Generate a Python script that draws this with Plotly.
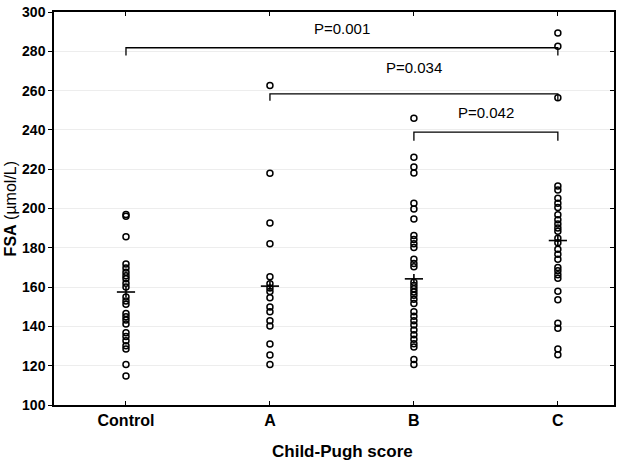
import plotly.graph_objects as go

categories = ["Control", "A", "B", "C"]

control_vals = [197, 196, 185.6, 171.7, 169.7, 167.5, 165.8, 164.2, 162, 160, 155, 152.9, 151.3,
                146.6, 144.9, 143.2, 141.2, 136.8, 134.8, 132.7, 130.2, 128.5, 120.6, 114.7]
a_vals = [262.6, 217.9, 192.6, 182.1, 165.3, 161.7, 159.5, 157.8, 154.6, 149.9, 147.4, 142.9,
          140.2, 131, 125.5, 120.6]
b_vals = [245.9, 226.1, 221.1, 218.1, 202.7, 199.8, 194.6, 186.2, 184.2, 182.1, 180.1, 174.2,
          172, 170.4, 162.5, 160.8, 159.1, 157.5, 155.8, 153.8, 151.6, 147.4, 145.2, 142.9,
          140.7, 138.2, 135.7, 133.5, 131.2, 129.5, 123.1, 120.6]
c_vals = [289.3, 282.6, 256.3, 211.4, 209.4, 205.2, 202.7, 200.5, 196.8, 194.3, 192.1, 190.1,
          188.4, 184.8, 182.6, 179.2, 176.7, 174.2, 170, 168.3, 166.3, 164.5, 157.9, 153.6,
          141.6, 139, 128.5, 125.6]
group_values = [control_vals, a_vals, b_vals, c_vals]
group_means = [157.5, 160.5, 164.2, 183.7]

# comparisons: (from, to, bracket level, tick bottom, label level, label)
comp_from = ["Control", "A", "B"]
comp_to = ["C", "C", "C"]
comp_level = [281.8, 258.3, 238.9]
comp_drop = [277.8, 254.8, 234.5]
comp_label_y = [291.5, 272.0, 249.0]
comp_text = ["P=0.001", "P=0.034", "P=0.042"]

y_ticks = [100, 120, 140, 160, 180, 200, 220, 240, 260, 280, 300]

FONT = "Liberation Sans, Arial, sans-serif"

fig = go.Figure()

for cat, vals in zip(categories, group_values):
    fig.add_trace(go.Scatter(
        x=[cat] * len(vals), y=vals, mode="markers",
        marker=dict(symbol="circle-open", size=6, color="black", line=dict(width=1.5, color="black")),
        showlegend=False, hoverinfo="y"))

fig.add_trace(go.Scatter(
    x=categories, y=group_means, mode="markers",
    marker=dict(symbol="line-ew", size=13, line=dict(width=1.6, color="black")),
    showlegend=False))
fig.add_trace(go.Scatter(
    x=categories, y=group_means, mode="markers",
    marker=dict(symbol="line-ns", size=7, line=dict(width=1.6, color="black")),
    showlegend=False))

for f, t, lv, dr, ly, txt in zip(comp_from, comp_to, comp_level, comp_drop, comp_label_y, comp_text):
    fig.add_trace(go.Scatter(
        x=[f, f, t, t], y=[dr, lv, lv, dr], mode="lines",
        line=dict(color="black", width=1.3), showlegend=False, hoverinfo="skip"))
    mid = (categories.index(f) + categories.index(t)) / 2
    fig.add_annotation(x=mid, y=ly, xref="x", yref="y", text=txt, showarrow=False,
                       font=dict(family=FONT, size=15, color="black"))

# helper trace for right axis
fig.add_trace(go.Scatter(x=[categories[0]], y=[None], yaxis="y2", showlegend=False, hoverinfo="skip"))

fig.update_layout(
    width=618, height=465,
    margin=dict(l=54, r=4, t=8, b=60),
    paper_bgcolor="white", plot_bgcolor="white",
    font=dict(family=FONT, color="black"),
    xaxis=dict(
        type="category", categoryorder="array", categoryarray=categories,
        range=[-0.5, 3.39], showline=True, linecolor="black", linewidth=1.5,
        mirror="ticks", ticks="inside", ticklen=4, tickcolor="black",
        showgrid=False, zeroline=False,
        tickfont=dict(family=FONT, size=16, weight="bold", color="black")),
    yaxis=dict(
        range=[100, 300], tickvals=y_ticks, showline=True, linecolor="black", linewidth=1.5,
        ticks="outside", ticklen=4, tickcolor="black", ticklabeloverflow="allow",
        showgrid=True, gridcolor="#ededed", gridwidth=1, zeroline=False,
        tickfont=dict(family=FONT, size=14, weight="bold", color="black")),
    yaxis2=dict(
        range=[100, 300], tickvals=y_ticks, overlaying="y", side="right",
        showline=True, linecolor="black", linewidth=1.5, ticks="inside", ticklen=4,
        tickcolor="black", showticklabels=False, showgrid=False, zeroline=False),
)

fig.add_annotation(xref="paper", yref="paper", x=-0.077, y=0.5, xanchor="center", yanchor="middle",
                   text="<b>FSA</b> (µmol/L)", textangle=-90, showarrow=False,
                   font=dict(family=FONT, size=16, color="black"))
fig.add_annotation(xref="paper", yref="paper", x=(342 - 54) / 560, y=-(452 - 405) / 397,
                   xanchor="center", yanchor="middle",
                   text="<b>Child-Pugh score</b>", showarrow=False,
                   font=dict(family=FONT, size=17, color="black"))

fig.write_html("out.html", config={"displayModeBar": False},
               post_script="document.body.style.margin='0';")
